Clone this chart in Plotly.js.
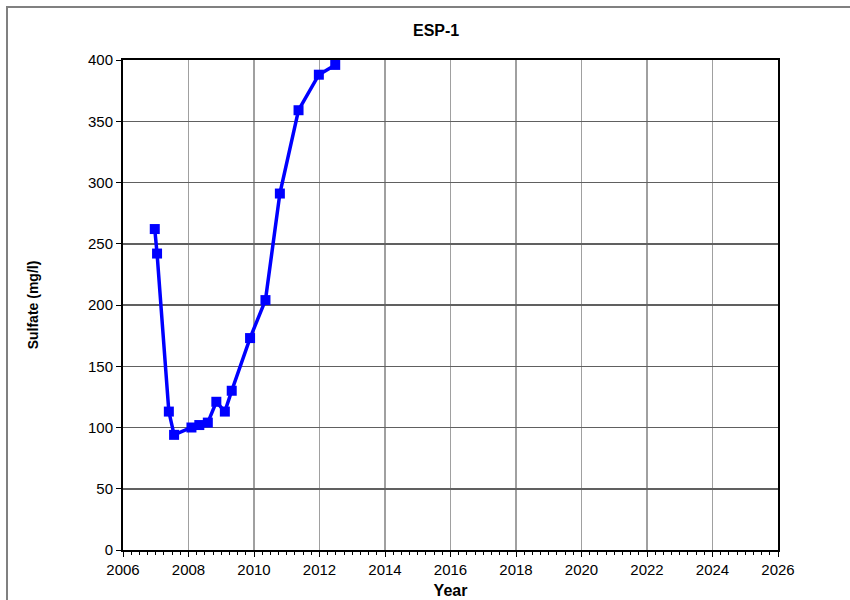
<!DOCTYPE html>
<html>
<head>
<meta charset="utf-8">
<script src="https://cdn.plot.ly/plotly-3.0.1.min.js"></script>
<style>html,body{margin:0;padding:0;background:#fff;}#chart{width:850px;height:600px;}</style>
</head>
<body>
<div id="chart"></div>
<script>
const chartTitle = "ESP-1";
const xTitle = "Year";
const yTitle = "Sulfate (mg/l)";
const years = [2006.97, 2007.04, 2007.40, 2007.56, 2008.09, 2008.33, 2008.59, 2008.85, 2009.11, 2009.32, 2009.88, 2010.35, 2010.79, 2011.36, 2011.98, 2012.48];
const sulfate = [262, 242, 113, 94, 100, 102, 104, 121, 113, 130, 173, 204, 291, 359, 388, 396];
const xTickVals = [2006, 2008, 2010, 2012, 2014, 2016, 2018, 2020, 2022, 2024, 2026];
const yTickVals = [0, 50, 100, 150, 200, 250, 300, 350, 400];

const font = "Arial, 'Liberation Sans', sans-serif";

const trace = {
  x: years, y: sulfate, type: 'scatter', mode: 'lines+markers',
  line: {color: '#0000FF', width: 3.5},
  marker: {symbol: 'square', size: 10, color: '#0000FF'},
  cliponaxis: false, showlegend: false
};

const layout = {
  width: 850, height: 600,
  margin: {l: 123, r: 72, t: 60, b: 50},
  paper_bgcolor: '#ffffff', plot_bgcolor: '#ffffff',
  font: {family: font, color: '#000', size: 15},
  title: {text: '<b>' + chartTitle + '</b>', font: {family: font, size: 16, color: '#000'},
          x: 0.478, xref: 'paper', xanchor: 'center', y: 1 + (60 - 41) / 490, yref: 'paper', yanchor: 'middle'},
  xaxis: {
    range: [2006, 2026], tickvals: xTickVals, ticktext: xTickVals.map(String),
    showgrid: true, gridcolor: '#a0a0a0', gridwidth: 1.5,
    showline: true, linecolor: '#000', linewidth: 2, mirror: true,
    ticks: 'outside', ticklen: 5, tickcolor: '#000', tickwidth: 1,
    minor: {dtick: 0.25, tick0: 2006, ticks: 'outside', ticklen: 3, tickcolor: '#000', showgrid: false},
    zeroline: false, tickfont: {size: 15},
    title: {text: '<b>' + xTitle + '</b>', font: {size: 16}, standoff: 8},
    automargin: false
  },
  yaxis: {
    range: [0, 400], tickvals: yTickVals, ticktext: yTickVals.map(String),
    showgrid: true, gridcolor: '#606060', gridwidth: 1.5,
    showline: true, linecolor: '#000', linewidth: 2, mirror: true,
    ticks: 'outside', ticklen: 5, tickcolor: '#000', tickwidth: 1,
    zeroline: false, tickfont: {size: 15},
    title: {text: '<b>' + yTitle + '</b>', font: {size: 14}, standoff: 46},
    automargin: false
  },
  shapes: [{
    type: 'rect', xref: 'paper', yref: 'paper',
    x0: (7 - 123) / 655, x1: 1.3, y0: -0.3, y1: 1 + (60 - 7) / 490,
    line: {color: '#808080', width: 2}, fillcolor: 'rgba(0,0,0,0)', layer: 'below'
  }]
};

Plotly.newPlot('chart', [trace], layout, {displayModeBar: false, staticPlot: true});
</script>
</body>
</html>
